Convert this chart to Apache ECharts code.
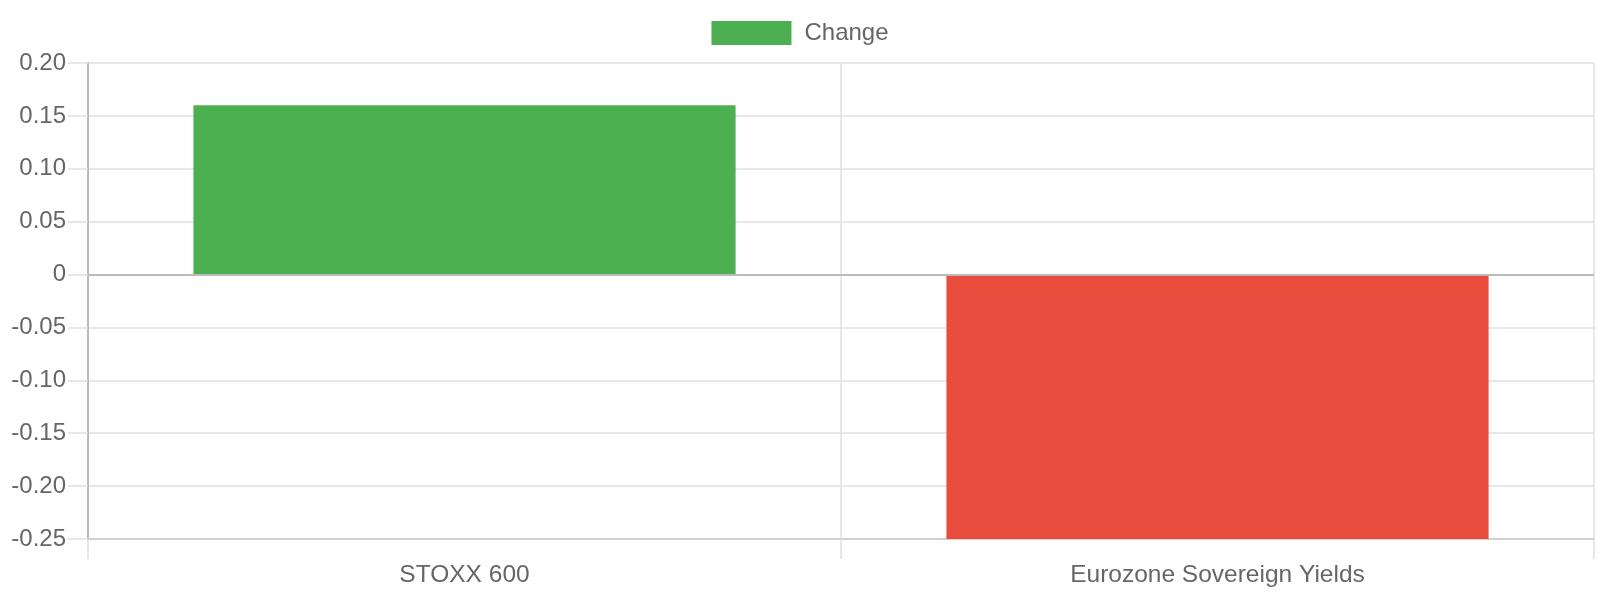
<!DOCTYPE html>
<html>
<head>
<meta charset="utf-8">
<script src="https://cdn.jsdelivr.net/npm/echarts@6/dist/echarts.min.js"></script>
<style>
html,body{margin:0;padding:0;background:#fff;}
#chart{width:1600px;height:600px;}
</style>
</head>
<body>
<div id="chart"></div>
<script>
const categories = ["STOXX 600", "Eurozone Sovereign Yields"];
const changeValues = [0.16, -0.25];
const barColors = ["#4CAF50", "#E74C3C"];
const seriesName = "Change";

const FONT = "Liberation Sans, Arial, sans-serif";
const chart = echarts.init(document.getElementById('chart'));
chart.setOption({
  animation: false,
  textStyle: { fontFamily: FONT },
  legend: {
    top: 16,
    left: 'center',
    itemWidth: 80,
    itemHeight: 24,
    icon: 'rect',
    textStyle: { color: '#666', fontSize: 24, fontFamily: FONT, padding: [0, 0, 0, 8] },
    data: [seriesName]
  },
  grid: { left: 88, right: 6, top: 63, bottom: 61, containLabel: false },
  xAxis: {
    type: 'category',
    data: categories,
    axisLine: { onZero: false, lineStyle: { color: '#c8c8c8', width: 1.5 } },
    axisTick: { show: true, length: 20, lineStyle: { color: '#e0e0e0', width: 1.5 } },
    splitLine: { show: true, lineStyle: { color: '#e0e0e0', width: 1.5 } },
    axisLabel: { color: '#666', fontSize: 24.5, fontFamily: FONT, margin: 24 }
  },
  yAxis: {
    type: 'value',
    min: -0.25,
    max: 0.2,
    interval: 0.05,
    axisLine: { show: true, lineStyle: { color: '#aaa', width: 1.5 } },
    axisTick: { show: true, length: 20, lineStyle: { color: '#e0e0e0', width: 1.5 } },
    splitLine: { show: true, lineStyle: { color: '#e0e0e0', width: 1.5 } },
    axisLabel: {
      color: '#666', fontSize: 24, fontFamily: FONT, margin: 22, padding: [3, 0, 0, 0],
      formatter: v => Math.abs(v) < 1e-9 ? '0' : v.toFixed(2)
    }
  },
  series: [{
    name: seriesName,
    type: 'bar',
    barWidth: '72%',
    itemStyle: { color: barColors[0] },
    data: changeValues.map((v, i) => ({ value: v, itemStyle: { color: barColors[i] } })),
    markLine: {
      silent: true,
      symbol: 'none',
      label: { show: false },
      lineStyle: { color: '#bbb', type: 'solid', width: 2 },
      data: [{ yAxis: 0 }]
    }
  }]
});
</script>
</body>
</html>
